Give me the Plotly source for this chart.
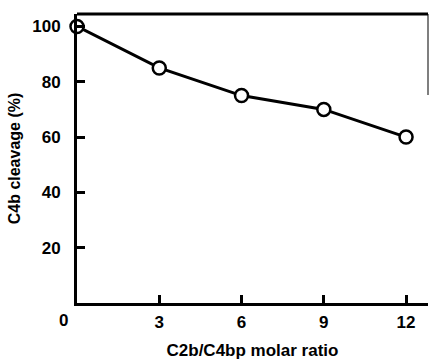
import plotly.graph_objects as go

ratio = [0, 3, 6, 9, 12]
cleavage = [100, 85, 75, 70, 60]
x_ticks = [3, 6, 9, 12]
y_ticks = [20, 40, 60, 80, 100]

font = dict(family="Liberation Sans, Arial", size=17, color="black")

fig = go.Figure()
fig.add_trace(go.Scatter(
    x=ratio, y=cleavage, mode="lines+markers",
    line=dict(color="black", width=3),
    marker=dict(symbol="circle", size=13, color="white",
                line=dict(color="black", width=2.5)),
    cliponaxis=False,
))
fig.add_annotation(x=0, y=0, xref="x", yref="y", text="<b>0</b>", showarrow=False,
                   xshift=-14, yshift=-17, font=font)
fig.add_shape(type="line", xref="paper", yref="paper", x0=1, x1=1, y0=0.72, y1=1,
              line=dict(color="#555", width=1.5))
fig.update_layout(
    width=430, height=360,
    margin=dict(l=77, r=2, t=14, b=53),
    plot_bgcolor="white", paper_bgcolor="white",
    showlegend=False,
    font=font,
)
fig.update_xaxes(
    range=[0, 12.8], tickvals=x_ticks, ticktext=[f"<b>{v}</b>" for v in x_ticks],
    ticks="inside", ticklen=8, tickwidth=2.5, tickcolor="black", ticklabelstandoff=2,
    showline=True, linecolor="black", linewidth=3, showgrid=False, zeroline=False,
    title=dict(text="<b>C2b/C4bp molar ratio</b>", font=dict(size=17), standoff=14),
)
fig.update_yaxes(
    range=[0, 104.5], tickvals=y_ticks, ticktext=[f"<b>{v}</b>" for v in y_ticks],
    ticks="inside", ticklen=8, tickwidth=2.5, tickcolor="black", ticklabelstandoff=10,
    showline=True, linecolor="black", linewidth=3, showgrid=False, zeroline=False,
    title=dict(text="<b>C4b cleavage (%)</b>", font=dict(size=16), standoff=8),
)
fig.add_shape(type="line", xref="paper", yref="paper", x0=0, x1=1, y0=1, y1=1,
              line=dict(color="black", width=3))
fig.write_html("out.html")
